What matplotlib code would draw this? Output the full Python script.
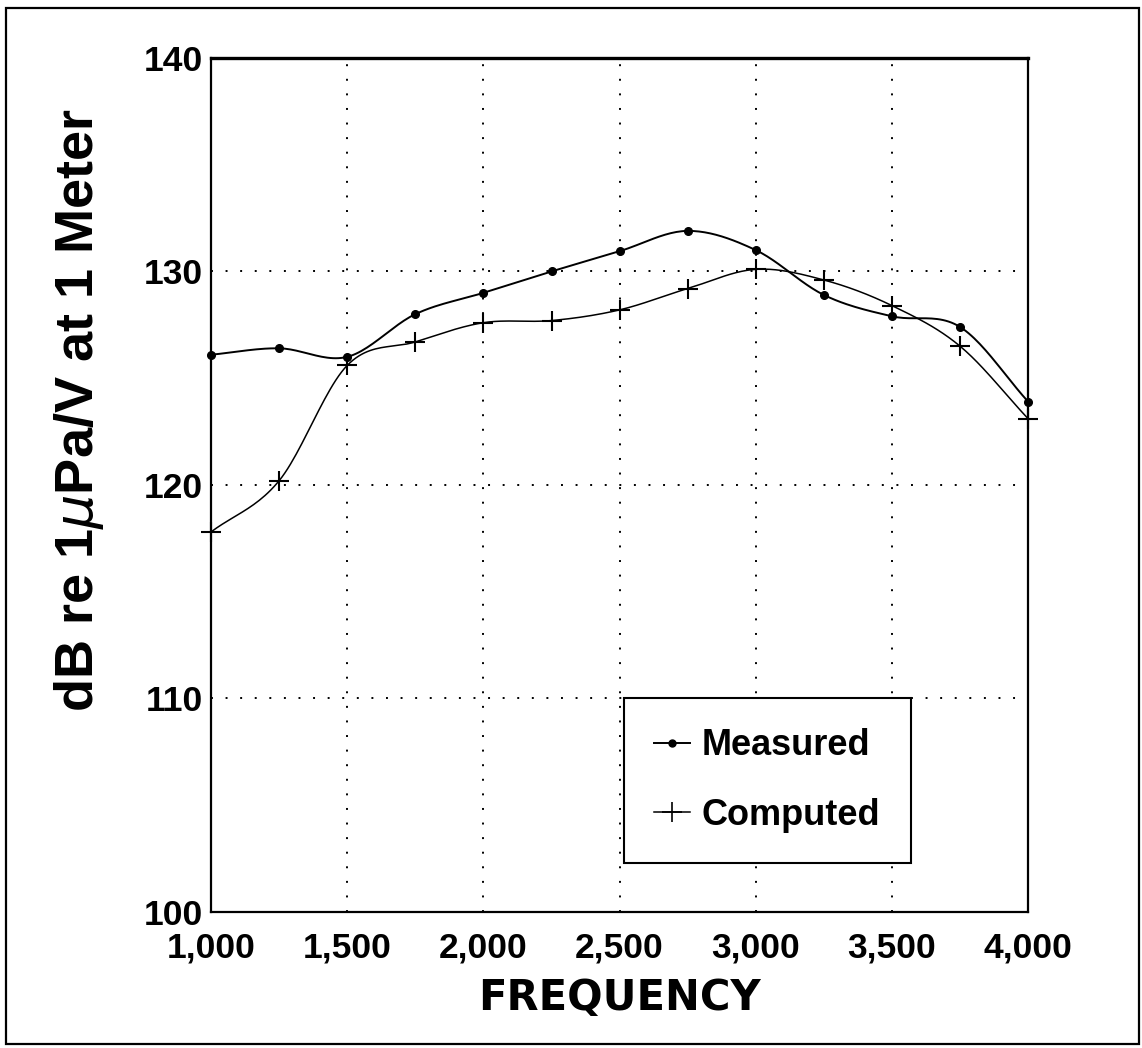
import numpy as np
import matplotlib
matplotlib.use('Agg')
import matplotlib.pyplot as plt
from matplotlib.ticker import FuncFormatter
from matplotlib.lines import Line2D
from matplotlib.patches import Rectangle

# source level vs frequency
freq = [1000, 1250, 1500, 1750, 2000, 2250, 2500, 2750, 3000, 3250, 3500, 3750, 4000]
measured = [126.1, 126.4, 126.0, 128.0, 129.0, 130.0, 130.95, 131.9, 131.0, 128.9, 127.9, 127.4, 123.9]
computed = [117.8, 120.2, 125.6, 126.7, 127.6, 127.7, 128.2, 129.2, 130.1, 129.6, 128.4, 126.5, 123.1]

x_ticks = [1000, 1500, 2000, 2500, 3000, 3500, 4000]
y_ticks = [100, 110, 120, 130, 140]


def smooth(x, y, n=24):
    # Catmull-Rom curve through the points, for drawing only
    x = np.asarray(x, float)
    y = np.asarray(y, float)
    px = np.concatenate([[2 * x[0] - x[1]], x, [2 * x[-1] - x[-2]]])
    py = np.concatenate([[2 * y[0] - y[1]], y, [2 * y[-1] - y[-2]]])
    t = np.linspace(0, 1, n, endpoint=False)
    xs, ys = [], []
    for i in range(1, len(px) - 2):
        for p, out in ((px, xs), (py, ys)):
            p0, p1, p2, p3 = p[i - 1], p[i], p[i + 1], p[i + 2]
            out.append(0.5 * (2 * p1 + (-p0 + p2) * t
                              + (2 * p0 - 5 * p1 + 4 * p2 - p3) * t ** 2
                              + (-p0 + 3 * p1 - 3 * p2 + p3) * t ** 3))
    xs.append([x[-1]])
    ys.append([y[-1]])
    return np.concatenate(xs), np.concatenate(ys)


fig = plt.figure(figsize=(11.42, 10.48), dpi=100)
ax = fig.add_axes([0.1848, 0.1298, 0.7155, 0.8149])

sx, sy = smooth(freq, measured)
ax.plot(sx, sy, color='black', lw=1.4)
ax.plot(freq, measured, 'o', color='black', ms=5.5, clip_on=False, zorder=4)

sx, sy = smooth(freq, computed)
ax.plot(sx, sy, color='black', lw=1.1)
ax.plot(freq, computed, '+', color='black', ms=15, mew=1.5, clip_on=False, zorder=4)

ax.set_xlim(1000, 4000)
ax.set_ylim(100, 140)
ax.set_xticks(x_ticks)
ax.set_yticks(y_ticks)
ax.xaxis.set_major_formatter(FuncFormatter(lambda v, p: f'{int(v):,}'))
ax.grid(True, color='black', linestyle=(0, (1, 6.5)), linewidth=1.4)
ax.tick_params(length=0, labelsize=25.5)
ax.tick_params(axis='x', pad=14)
ax.tick_params(axis='y', pad=6)
for lab in ax.get_xticklabels() + ax.get_yticklabels():
    lab.set_family('Liberation Sans')
    lab.set_weight('bold')
for side in ax.spines.values():
    side.set_linewidth(1.6)
ax.spines['top'].set_linewidth(2.4)

ax.set_xlabel('FREQUENCY', family='DejaVu Sans', weight='bold', fontsize=30, labelpad=9)
ax.set_ylabel(r'dB re 1$\mu$Pa/V at 1 Meter', family='Liberation Sans', weight='bold', fontsize=39)
ax.yaxis.set_label_coords(-0.129, 0.588)

handles = [Line2D([], [], color='black', lw=1.4, marker='o', ms=5),
           Line2D([], [], color='black', lw=1.1, marker='+', ms=15, mew=1.2)]
leg = ax.legend(handles, ['Measured', 'Computed'], loc='lower left', bbox_to_anchor=(0.505, 0.057),
                prop={'family': 'Liberation Sans', 'weight': 'bold', 'size': 26},
                handlelength=1.0, handletextpad=0.3, borderpad=0.85, labelspacing=0.95,
                fancybox=False, framealpha=1, edgecolor='black', borderaxespad=0)
leg.get_frame().set_linewidth(1.5)

# outer border of the page
fig.add_artist(Rectangle((0.0053, 0.0038), 0.992, 0.9885, transform=fig.transFigure,
                         fill=False, edgecolor='black', linewidth=1.6))

fig.savefig('out.png', dpi=100)
